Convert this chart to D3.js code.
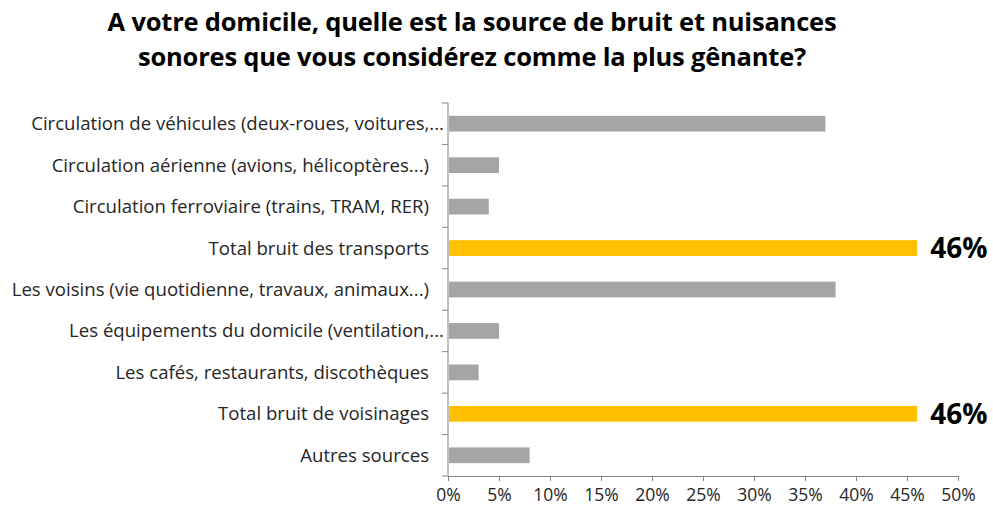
<!DOCTYPE html>
<html>
<head>
<meta charset="utf-8">
<script src="https://cdn.jsdelivr.net/npm/d3@7"></script>
<style>
  body { margin: 0; background: #fff; }
  svg { display: block; font-family: "Open Sans", "Noto Sans", sans-serif; }
</style>
</head>
<body>
<div id="chart"></div>
<script>
// Data
const categories = [
  "Circulation de véhicules (deux-roues, voitures,...",
  "Circulation aérienne (avions, hélicoptères...)",
  "Circulation ferroviaire (trains, TRAM, RER)",
  "Total bruit des transports",
  "Les voisins (vie quotidienne, travaux, animaux...)",
  "Les équipements du domicile (ventilation,...",
  "Les cafés, restaurants, discothèques",
  "Total bruit de voisinages",
  "Autres sources"
];
const values = [37, 5, 4, 46, 38, 5, 3, 46, 8];
const totals = ["Total bruit des transports", "Total bruit de voisinages"];
const xTicks = [0, 5, 10, 15, 20, 25, 30, 35, 40, 45, 50];
const titleLines = [
  "A votre domicile, quelle est la source de bruit et nuisances",
  "sonores que vous considérez comme la plus gênante?"
];

const data = categories.map((c, i) => ({key: c, value: values[i]}));

const W = 993, H = 512;
const margin = {top: 103, right: 35, bottom: 36, left: 448};
const width = W - margin.left - margin.right;
const height = H - margin.top - margin.bottom;

const svg = d3.select("#chart").append("svg")
  .attr("width", W).attr("height", H);

// Title
svg.append("g").selectAll("text")
  .data(titleLines)
  .join("text")
  .attr("x", 472)
  .attr("y", (d, i) => 31 + i * 35)
  .attr("text-anchor", "middle")
  .attr("font-size", 25.5)
  .attr("font-weight", "bold")
  .attr("letter-spacing", "-0.2px")
  .attr("fill", "#000")
  .text(d => d);

const g = svg.append("g")
  .attr("transform", "translate(" + margin.left + "," + margin.top + ")");

const x = d3.scaleLinear().domain([0, 50]).range([0, 510]);
const y = d3.scaleBand().domain(categories).range([0, height]).paddingInner(0.62).paddingOuter(0.31);

// X axis
const xaxis = d3.axisBottom(x)
  .tickValues(xTicks)
  .tickFormat(d => d + "%")
  .tickSize(5)
  .tickSizeOuter(0);

const xg = g.append("g")
  .attr("transform", "translate(0," + height + ")")
  .call(xaxis);
xg.select(".domain").attr("stroke", "#868686");
xg.selectAll(".tick line").attr("stroke", "#868686");
xg.selectAll(".tick text")
  .attr("font-size", 17.5)
  .attr("fill", "#262626")
  .attr("dy", "0.95em")
  .style("font-family", "'Open Sans', sans-serif");

// Y axis line + boundary ticks
const step = height / categories.length;
const bounds = d3.range(categories.length + 1).map(i => i * step);
g.append("line")
  .attr("x1", 0).attr("x2", 0)
  .attr("y1", 0).attr("y2", height)
  .attr("stroke", "#868686");
g.append("g").selectAll("line")
  .data(bounds)
  .join("line")
  .attr("x1", -6).attr("x2", 0)
  .attr("y1", d => d).attr("y2", d => d)
  .attr("stroke", "#868686");

// Category labels
g.append("g").selectAll("text")
  .data(categories)
  .join("text")
  .attr("x", d => d.endsWith(",...") ? -4 : -19)
  .attr("y", d => y(d) + y.bandwidth() / 2)
  .attr("dy", "0.35em")
  .attr("text-anchor", "end")
  .attr("font-size", 18.6)
  .attr("fill", "#262626")
  .text(d => d);

// Bars
g.append("g").selectAll("rect")
  .data(data)
  .join("rect")
  .attr("x", x(0) + 1)
  .attr("y", d => y(d.key))
  .attr("width", d => x(d.value) - x(0) - 1)
  .attr("height", y.bandwidth())
  .attr("fill", d => totals.includes(d.key) ? "#ffc000" : "#a5a5a5");

// Total labels
g.append("g").selectAll("text")
  .data(data.filter(d => totals.includes(d.key)))
  .join("text")
  .attr("x", d => x(d.value) + 13)
  .attr("y", d => y(d.key) + y.bandwidth() / 2)
  .attr("dy", "0.36em")
  .attr("font-size", 28)
  .attr("font-weight", "bold")
  .attr("fill", "#000")
  .text(d => d.value + "%");
</script>
</body>
</html>
